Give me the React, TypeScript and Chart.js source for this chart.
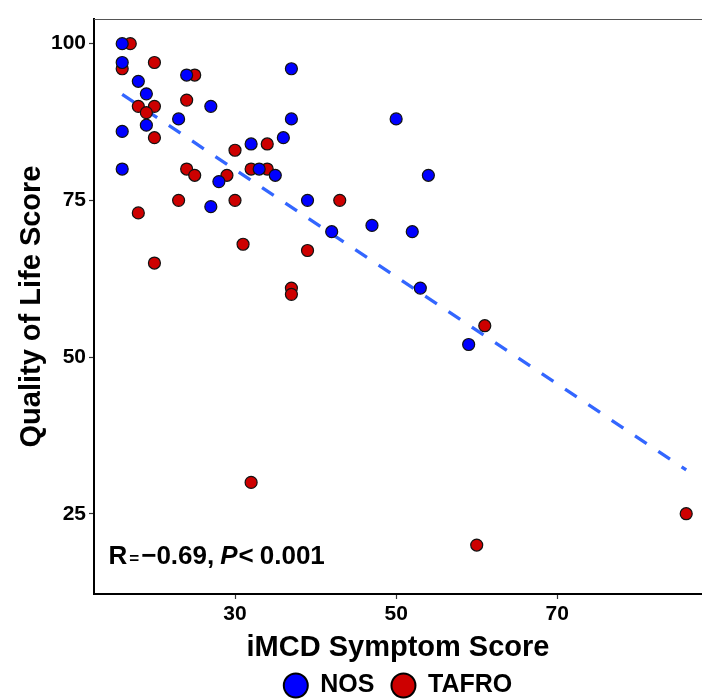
import React, { useEffect, useRef } from "react";
import { Chart, registerables } from "chart.js";

Chart.register(...registerables);

// ---- data ----
const seriesNames = ["NOS", "TAFRO"];
const nosX = [16, 16, 37, 24, 18, 19, 27, 23, 37, 50, 16, 19, 36, 32, 16, 33, 35, 28, 27, 39, 42, 47, 52, 54, 53, 59];
const nosY = [100, 97, 96, 95, 94, 92, 90, 88, 88, 88, 86, 87, 85, 84, 80, 80, 79, 78, 74, 75, 70, 71, 70, 79, 61, 52];
const tafroX = [17, 16, 20, 25, 18, 20, 19, 24, 20, 34, 30, 24, 25, 32, 34, 29, 23, 30, 43, 18, 31, 39, 20, 37, 37, 61, 32, 60, 86];
const tafroY = [100, 96, 97, 95, 90, 90, 89, 91, 85, 84, 83, 80, 79, 80, 80, 79, 75, 75, 75, 73, 68, 67, 65, 61, 60, 55, 30, 20, 25];
const fitX = [16, 86];
const fitY = [91.9, 32.0];
const xTicks = [30, 50, 70];
const yTicks = [25, 50, 75, 100];
const xRange = [12.5, 87.96];
const yRange = [12.19, 103.94];
const xTitle = "iMCD Symptom Score";
const yTitle = "Quality of Life Score";
const statR = "\u22120.69";
const statP = "0.001";
const statPos = [14.3, 16.9];

const FONT = '"Liberation Sans", Arial, Helvetica, sans-serif';

const extras = {
  id: "extras",
  afterDatasetsDraw(chart: any) {
    const { ctx, chartArea, scales } = chart;
    ctx.save();
    // panel top border
    ctx.strokeStyle = "#555";
    ctx.lineWidth = 1;
    ctx.beginPath();
    ctx.moveTo(chartArea.left, chartArea.top + 0.5);
    ctx.lineTo(chartArea.right, chartArea.top + 0.5);
    ctx.stroke();
    // correlation label
    let x = scales.x.getPixelForValue(statPos[0]);
    const y = scales.y.getPixelForValue(statPos[1]);
    const parts: [string, string, number][] = [
      ["R", `bold 26px ${FONT}`, 2],
      ["=", `bold 17px ${FONT}`, 2],
      [statR + ",", `bold 26px ${FONT}`, 6],
      ["P", `italic bold 26px ${FONT}`, 1],
      ["<", `bold 26px ${FONT}`, 6],
      [statP, `bold 26px ${FONT}`, 0],
    ];
    ctx.fillStyle = "#000";
    ctx.textBaseline = "alphabetic";
    ctx.textAlign = "left";
    for (const [t, f, gap] of parts) {
      ctx.font = f;
      ctx.fillText(t, x, y);
      x += ctx.measureText(t).width + gap;
    }
    ctx.restore();
  },
};

export default function App() {
  const ref = useRef<HTMLCanvasElement>(null);
  useEffect(() => {
    const canvas = ref.current!;
    Chart.defaults.font.family = FONT;
    const chart = new Chart(canvas, {
      type: "scatter",
      data: {
        datasets: [
          {
            label: seriesNames[0],
            data: nosX.map((x, i) => ({ x, y: nosY[i] })),
            backgroundColor: "#0000FF",
            borderColor: "#111",
            borderWidth: 1.2,
            pointRadius: 6,
            pointStyle: "circle",
            order: 0,
          },
          {
            label: seriesNames[1],
            data: tafroX.map((x, i) => ({ x, y: tafroY[i] })),
            backgroundColor: "#CD0000",
            borderColor: "#111",
            borderWidth: 1.2,
            pointRadius: 6,
            pointStyle: "circle",
            order: 1,
          },
          {
            type: "line",
            label: "fit",
            data: fitX.map((x, i) => ({ x, y: fitY[i] })),
            borderColor: "#3366FF",
            borderWidth: 3.3,
            borderDash: [14, 14],
            pointRadius: 0,
            fill: false,
            showLine: true,
            order: 2,
          } as any,
        ],
      },
      options: {
        responsive: false,
        animation: false,
        devicePixelRatio: 1,
        layout: { autoPadding: false, padding: { top: 19, left: 0, right: 0, bottom: 0 } },
        plugins: {
          legend: {
            position: "bottom",
            fullSize: false,
            labels: {
              usePointStyle: true,
              pointStyleWidth: 24,
              boxHeight: 17,
              padding: 17,
              color: "#000",
              font: { size: 25, weight: "bold" },
              generateLabels: (c: any) =>
                Chart.defaults.plugins.legend.labels
                  .generateLabels(c)
                  .filter((l: any) => l.datasetIndex !== 2)
                  .map((l: any) => ({ ...l, lineWidth: 2, strokeStyle: "#000" })),
            },
          },
          tooltip: { enabled: false },
        },
        scales: {
          x: {
            type: "linear",
            min: xRange[0],
            max: xRange[1],
            afterBuildTicks: (s: any) => {
              s.ticks = xTicks.map((v) => ({ value: v }));
            },
            afterFit: (s: any) => {
              s.height = 62;
              s.paddingLeft = 0;
              s.paddingRight = 0;
            },
            grid: { drawOnChartArea: false, drawTicks: true, tickLength: 5, tickColor: "#333", tickWidth: 1.2 },
            border: { display: true, color: "#000", width: 2 },
            ticks: { padding: 3, color: "#000", font: { size: 21, weight: "bold" }, maxRotation: 0 },
            title: {
              display: true,
              text: xTitle,
              color: "#000",
              font: { size: 29, weight: "bold", lineHeight: 0.5 },
              padding: { top: 0, bottom: 1 },
            },
          },
          y: {
            type: "linear",
            min: yRange[0],
            max: yRange[1],
            afterBuildTicks: (s: any) => {
              s.ticks = yTicks.map((v) => ({ value: v }));
            },
            afterFit: (s: any) => {
              s.width = 94;
            },
            grid: { drawOnChartArea: false, drawTicks: true, tickLength: 5, tickColor: "#333", tickWidth: 1.2 },
            border: { display: true, color: "#000", width: 2 },
            ticks: { padding: 3, color: "#000", font: { size: 21, weight: "bold" } },
            title: {
              display: true,
              text: yTitle,
              color: "#000",
              font: { size: 29, weight: "bold", lineHeight: 0.5 },
              padding: { top: 25, bottom: 0 },
            },
          },
        },
      } as any,
      plugins: [extras],
    });
    return () => chart.destroy();
  }, []);
  return (
    <div style={{ position: "fixed", left: 0, top: 0, width: 702, height: 708, background: "#fff" }}>
      <canvas ref={ref} width={702} height={708} style={{ display: "block", width: 702, height: 708 }} />
    </div>
  );
}
